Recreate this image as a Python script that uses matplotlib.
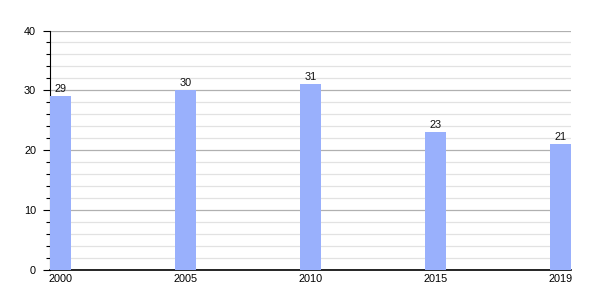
import matplotlib
matplotlib.use('Agg')
import matplotlib.pyplot as plt
import matplotlib.ticker as mtick
import numpy as np

# Data
years = ['2000', '2005', '2010', '2015', '2019']
values = [29, 30, 31, 23, 21]

plt.rcParams['font.family'] = ['Liberation Sans', 'DejaVu Sans']

fig = plt.figure(figsize=(6, 3), dpi=100)
ax = fig.add_axes([50 / 600, 0.1, 521 / 600, 0.7983])

bar_w = 0.168
pos = np.arange(len(years))
bars = ax.bar(pos, values, width=bar_w, align='edge', color='#99b0fc', zorder=3)

# value labels above each bar
for b, v in zip(bars, values):
    ax.text(b.get_x() + b.get_width() / 2, v + 0.4, str(v), ha='center', va='bottom',
            fontsize=7.8, color='#111111', zorder=4)

ax.set_xlim(0, len(years) - 1 + bar_w)
ax.set_ylim(0, 40)
ax.set_xticks(pos + bar_w / 2)
ax.set_xticklabels(years)

ax.yaxis.set_major_locator(mtick.MultipleLocator(10))
ax.yaxis.set_minor_locator(mtick.MultipleLocator(2))
ax.grid(which='major', axis='y', color='#b0b0b0', linewidth=0.9, zorder=1)
ax.grid(which='minor', axis='y', color='#e2e2e2', linewidth=0.9, zorder=1)

for s in ['top', 'right']:
    ax.spines[s].set_visible(False)
ax.spines['left'].set_color('black')
ax.spines['bottom'].set_color('black')
ax.spines['bottom'].set_linewidth(1.2)

ax.tick_params(axis='y', which='major', length=5, width=0.8, labelsize=7.8, pad=5)
ax.tick_params(axis='y', which='minor', length=3, width=0.8)
ax.tick_params(axis='x', length=0, labelsize=7.8, pad=3)

fig.savefig('out.png', dpi=100)
